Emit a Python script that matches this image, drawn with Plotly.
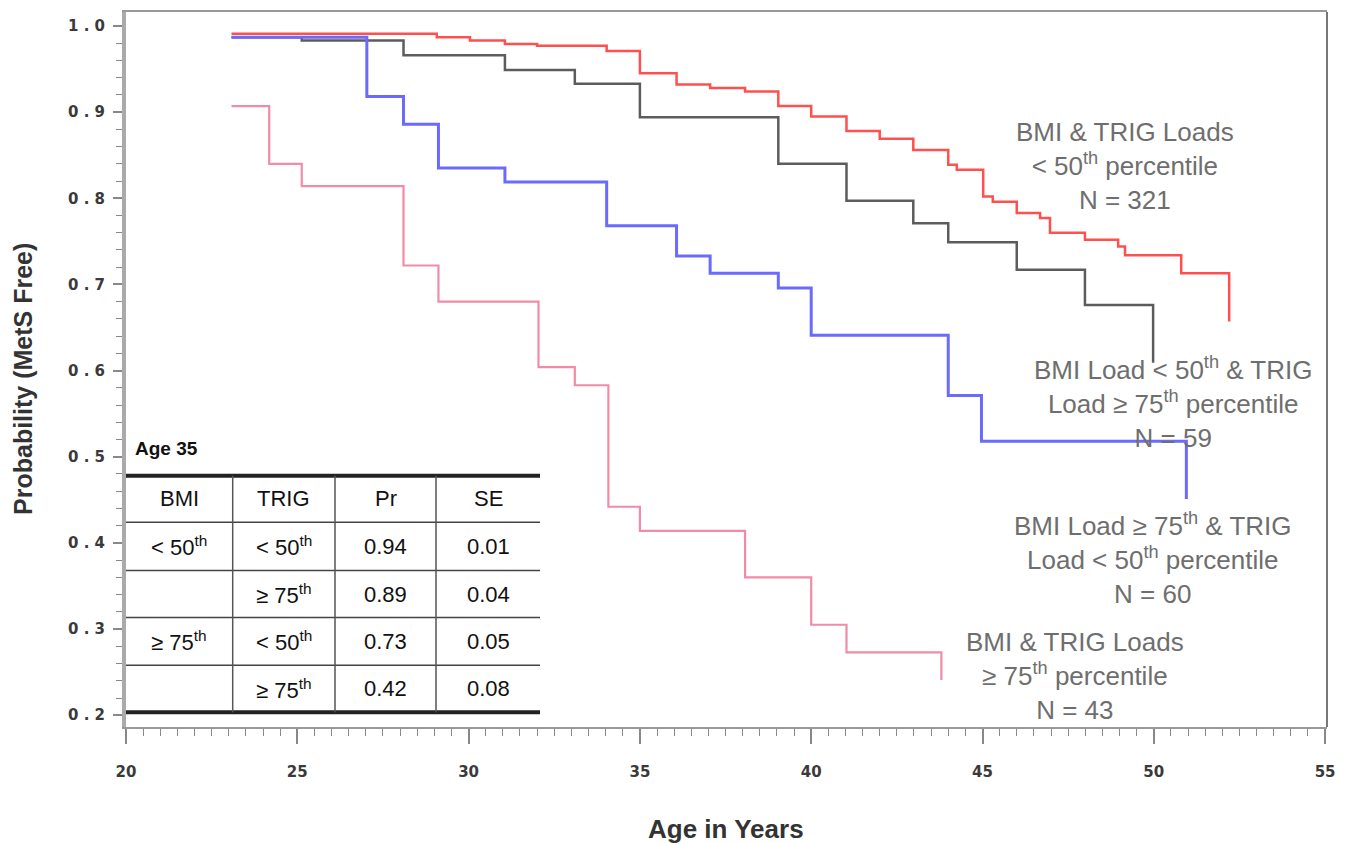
import plotly.graph_objects as go

# ---------------- data ----------------
red_age = [23.08, 29.07, 30.04, 31.06, 32.0, 34.03, 35.0, 36.07, 37.05, 38.07, 39.04, 40.0,
           41.03, 42.0, 42.98, 44.0, 44.25, 45.02, 45.3, 46.0, 46.68, 46.97, 47.99, 48.96,
           49.16, 50.8, 52.2]
red_p = [0.991, 0.987, 0.983, 0.979, 0.977, 0.971, 0.945, 0.932, 0.928, 0.924, 0.907, 0.895,
         0.878, 0.869, 0.856, 0.839, 0.833, 0.802, 0.796, 0.783, 0.777, 0.760, 0.752, 0.744,
         0.734, 0.713, 0.657]

grey_age = [23.08, 25.13, 28.1, 31.06, 33.1, 35.0, 39.04, 41.03, 42.98, 44.0, 46.0, 47.99, 49.98]
grey_p = [0.987, 0.983, 0.966, 0.949, 0.933, 0.894, 0.840, 0.797, 0.771, 0.749, 0.717, 0.676, 0.609]

blue_age = [23.08, 27.03, 28.1, 29.12, 31.06, 34.03, 36.07, 37.05, 39.04, 40.0, 44.0, 44.97, 50.95]
blue_p = [0.987, 0.918, 0.886, 0.835, 0.819, 0.768, 0.733, 0.713, 0.696, 0.641, 0.571, 0.518, 0.451]

pink_age = [23.08, 24.18, 25.13, 28.1, 29.12, 32.04, 33.1, 34.08, 35.0, 38.07, 40.0, 41.03, 43.8]
pink_p = [0.907, 0.840, 0.814, 0.722, 0.680, 0.604, 0.583, 0.442, 0.414, 0.360, 0.305, 0.273, 0.241]

x_ticks = [20, 25, 30, 35, 40, 45, 50, 55]
y_ticks = [0.2, 0.3, 0.4, 0.5, 0.6, 0.7, 0.8, 0.9, 1.0]
y_ticktext = ["0 . 2", "0 . 3", "0 . 4", "0 . 5", "0 . 6", "0 . 7", "0 . 8", "0 . 9", "1 . 0"]

curve_labels = [
    "BMI & TRIG Loads<br>< 50<sup>th</sup> percentile<br>N = 321",
    "BMI Load < 50<sup>th</sup> & TRIG<br>Load ≥ 75<sup>th</sup> percentile<br>N = 59",
    "BMI Load ≥ 75<sup>th</sup> & TRIG<br>Load < 50<sup>th</sup> percentile<br>N = 60",
    "BMI & TRIG Loads<br>≥ 75<sup>th</sup> percentile<br>N = 43",
]
curve_label_age = [49.16, 50.56, 49.98, 47.70]
curve_label_p = [0.837, 0.5625, 0.382, 0.2454]

table_title = "Age 35"
table_header = ["BMI", "TRIG", "Pr", "SE"]
table_bmi = ["< 50<sup>th</sup>", "", "≥ 75<sup>th</sup>", ""]
table_trig = ["< 50<sup>th</sup>", "≥ 75<sup>th</sup>", "< 50<sup>th</sup>", "≥ 75<sup>th</sup>"]
table_pr = [0.94, 0.89, 0.73, 0.42]
table_se = [0.01, 0.04, 0.05, 0.08]

# ---------------- layout geometry ----------------
W, H = 1347, 844
L, R, T, B = 126, 1327, 10, 727


def px(x):
    return (x - L) / (R - L)


def py(y):
    return (B - y) / (B - T)


fig = go.Figure()

series = [
    (grey_age, grey_p, "#5c5c5c", 2.5),
    (pink_age, pink_p, "#f08ca8", 2.2),
    (blue_age, blue_p, "#6a6aff", 3),
    (red_age, red_p, "#ff5050", 2.5),
]
for a, p, c, w in series:
    fig.add_trace(go.Scatter(x=a, y=p, mode="lines", showlegend=False,
                             line=dict(shape="hv", color=c, width=w)))

ann_font = dict(family="Liberation Sans, Arial, sans-serif", size=26, color="#6e6e6e")
annotations = []
for t, a, p in zip(curve_labels, curve_label_age, curve_label_p):
    annotations.append(dict(x=a, y=p, xref="x", yref="y", text=t, showarrow=False,
                            xanchor="center", yanchor="middle", align="center", font=ann_font))

# axis titles
annotations.append(dict(x=px(23), y=py(378), xref="paper", yref="paper",
                        text="<b>Probability (MetS Free)</b>", textangle=-90, showarrow=False,
                        xanchor="center", yanchor="middle",
                        font=dict(family="Liberation Sans, Arial", size=25, color="#333")))
annotations.append(dict(x=px(726), y=py(829), xref="paper", yref="paper",
                        text="<b>Age in Years</b>", showarrow=False,
                        xanchor="center", yanchor="middle",
                        font=dict(family="Liberation Sans, Arial", size=26, color="#333")))

# ---------------- inset table ----------------
col_edges = [126, 232.7, 335, 436, 540]
row_edges = [475, 521.7, 570, 617.3, 665, 712.3]
shapes = []
for i, y in enumerate(row_edges):
    thick = i in (0, len(row_edges) - 1)
    shapes.append(dict(type="line", xref="paper", yref="paper", x0=px(col_edges[0]), x1=px(col_edges[-1]),
                       y0=py(y), y1=py(y), line=dict(color="#222" if thick else "#444", width=4 if thick else 1.5)))
for x in col_edges[1:-1]:
    shapes.append(dict(type="line", xref="paper", yref="paper", x0=px(x), x1=px(x),
                       y0=py(row_edges[0]), y1=py(row_edges[-1]), line=dict(color="#555", width=1.5)))
# right frame line
shapes.append(dict(type="line", xref="paper", yref="paper", x0=1, x1=1, y0=0, y1=1,
                   line=dict(color="#777", width=2)))

tab_font = dict(family="Liberation Sans, Arial", size=22, color="#111")
annotations.append(dict(x=px(133), y=py(448), xref="paper", yref="paper", text="<b>" + table_title + "</b>",
                        showarrow=False, xanchor="left", yanchor="middle",
                        font=dict(family="Liberation Sans, Arial", size=19, color="#111")))
rows = [table_header] + [[b, t, f"{p:.2f}", f"{s:.2f}"] for b, t, p, s in
                         zip(table_bmi, table_trig, table_pr, table_se)]
for r, row in enumerate(rows):
    yc = (row_edges[r] + row_edges[r + 1]) / 2
    for c, txt in enumerate(row):
        if not txt:
            continue
        xc = (col_edges[c] + col_edges[c + 1]) / 2
        annotations.append(dict(x=px(xc), y=py(yc), xref="paper", yref="paper", text=txt,
                                showarrow=False, xanchor="center", yanchor="middle", font=tab_font))

tick_font = dict(family="DejaVu Sans, sans-serif", size=15, color="#3a3a3a", weight="bold")

fig.update_layout(
    width=W, height=H,
    margin=dict(l=L, r=W - R, t=T, b=H - B),
    paper_bgcolor="white", plot_bgcolor="white",
    annotations=annotations, shapes=shapes,
    xaxis=dict(range=[20, 20 + (R - L) / 34.26], tickmode="array", tickvals=x_ticks,
               ticktext=[str(v) for v in x_ticks], ticks="outside", ticklen=15, tickwidth=1.5,
               tickcolor="#888", showgrid=False, zeroline=False, showline=True, linecolor="#999",
               linewidth=2, mirror=True, ticklabelstandoff=15,
               tickfont=tick_font,
               minor=dict(tickmode="linear", tick0=20, dtick=0.5, ticks="outside", ticklen=7,
                          tickcolor="#888", tickwidth=1.2, showgrid=False)),
    yaxis=dict(range=[1 - (B - 24) / 864, 1 + (24 - T) / 864], tickmode="array", tickvals=y_ticks,
               ticktext=y_ticktext, ticks="outside", ticklen=9, tickwidth=1.5, tickcolor="#888",
               showgrid=False, zeroline=False, showline=True, linecolor="#aaa", linewidth=4,
               ticklabelstandoff=5, tickfont=tick_font,
               minor=dict(tickmode="linear", tick0=0.2, dtick=0.02, ticks="outside", ticklen=6,
                          tickcolor="#888", tickwidth=1.2, showgrid=False)),
)

fig.write_html("out.html")
